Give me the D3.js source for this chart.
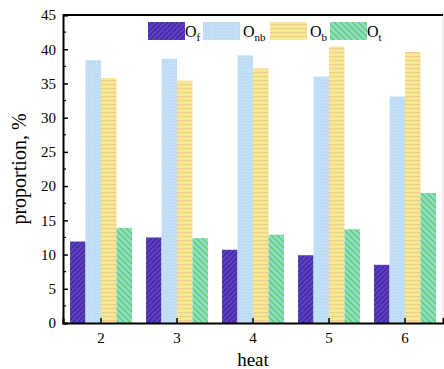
<!DOCTYPE html>
<html><head><meta charset="utf-8">
<script src="https://cdn.jsdelivr.net/npm/d3@7"></script>
<style>body{margin:0;background:#fff}svg{display:block}</style>
</head><body>
<svg id="c" width="444" height="369"></svg>
<script>
const categories = ["2","3","4","5","6"];
const seriesNames = ["f","nb","b","t"];
const Of  = [11.9, 12.5, 10.7, 9.9, 8.5];
const Onb = [38.4, 38.6, 39.1, 36.0, 33.1];
const Ob  = [35.8, 35.4, 37.2, 40.4, 39.6];
const Ot  = [13.9, 12.4, 12.9, 13.7, 19.0];
const yTicks = [0,5,10,15,20,25,30,35,40,45];
const series = [Of, Onb, Ob, Ot];

const svg = d3.select("#c");
const L = 63, R = 443, T = 15, B = 323;
const font = "'Liberation Serif','Times New Roman',serif";

const defs = svg.append("defs");
function pat(id, bg, draw, w, h){
  const p = defs.append("pattern").attr("id", id).attr("patternUnits","userSpaceOnUse")
    .attr("width", w).attr("height", h);
  p.append("rect").attr("width", w).attr("height", h).attr("fill", bg);
  draw(p);
}
pat("pf", "#5d42c4", p => {
  p.append("path").attr("d","M-1,1 l2,-2 M0,5 l5,-5 M4,6 l2,-2").attr("stroke","#4327a0").attr("stroke-width",1.4);
}, 5, 5);
pat("pnb", "#b9daf4", p => {
  p.append("rect").attr("x",0).attr("y",0).attr("width",1).attr("height",1).attr("fill","#dcedfa");
  p.append("rect").attr("x",1.5).attr("y",1.5).attr("width",1).attr("height",1).attr("fill","#dcedfa");
}, 3, 3);
pat("pb", "#f6ea8e", p => {
  p.append("rect").attr("x",0).attr("y",0).attr("width",4).attr("height",1.2).attr("fill","#f0cb92");
}, 4, 4);
pat("pt", "#84e2cc", p => {
  p.append("path").attr("d","M-1,5 l2,2 M0,0 l6,6 M5,-1 l2,2").attr("stroke","#72c45a").attr("stroke-width",1.3);
}, 6, 6);
const fills = ["url(#pf)","url(#pnb)","url(#pb)","url(#pt)"];

const x = d3.scaleBand().domain(categories).range([L, R]).paddingInner(0.185).paddingOuter(0.0925);
const x1 = d3.scaleBand().domain(d3.range(4)).range([0, x.bandwidth()]).padding(0);
const y = d3.scaleLinear().domain([0,45]).range([B, T]);

// bars
series.forEach((vals, s) => {
  svg.append("g").selectAll("rect").data(vals).join("rect")
    .attr("x", (d,i) => x(categories[i]) + x1(s))
    .attr("y", d => y(d))
    .attr("width", x1.bandwidth())
    .attr("height", d => y(0) - y(d))
    .attr("fill", fills[s]);
});

// frame
svg.append("line").attr("x1",R).attr("x2",R).attr("y1",T).attr("y2",B).attr("stroke","#ddd").attr("stroke-width",1);
svg.append("line").attr("x1",L).attr("x2",R).attr("y1",T).attr("y2",T).attr("stroke","#000").attr("stroke-width",2);

// y axis
const yAxis = d3.axisLeft(y).tickValues(yTicks).tickSize(-5).tickPadding(7).tickFormat(d3.format("d"));
const gy = svg.append("g").attr("transform",`translate(${L},0)`).call(yAxis);
gy.select(".domain").attr("stroke-width",2);
gy.selectAll(".tick line").attr("stroke-width",1.5);
gy.selectAll("text").attr("font-family",font).attr("font-size",15).attr("fill","#000");
const minor = d3.range(2.5, 45, 5);
svg.append("g").selectAll("line").data(minor).join("line")
  .attr("x1",L).attr("x2",L+3).attr("y1",d=>y(d)).attr("y2",d=>y(d)).attr("stroke","#000").attr("stroke-width",1.2);

// x axis
const xAxis = d3.axisBottom(x).tickSize(-5).tickPadding(9);
const gx = svg.append("g").attr("transform",`translate(0,${B})`).call(xAxis);
gx.select(".domain").attr("stroke-width",2);
gx.selectAll(".tick line").attr("stroke-width",1.5);
gx.selectAll("text").attr("font-family",font).attr("font-size",15).attr("fill","#000");

// titles
svg.append("text").attr("x",(L+R)/2).attr("y",366).attr("text-anchor","middle")
  .attr("font-family",font).attr("font-size",19).text("heat");
svg.append("text").attr("transform",`translate(26,${(T+B)/2}) rotate(-90)`).attr("text-anchor","middle")
  .attr("font-family",font).attr("font-size",20).text("proportion, %");

// legend
const legX = [148, 203, 270, 330];
const leg = svg.append("g");
seriesNames.forEach((n, i) => {
  leg.append("rect").attr("x", legX[i]).attr("y", 22).attr("width", 37).attr("height", 18).attr("fill", fills[i]);
  const t = leg.append("text").attr("x", legX[i] + 37 + (i===0||i===3?0:3)).attr("y", 37)
    .attr("font-family", font).attr("font-size", 16).attr("fill","#000");
  t.append("tspan").text("O");
  t.append("tspan").attr("dy", 4).attr("font-size", 11).text(n);
});
</script>
</body></html>
